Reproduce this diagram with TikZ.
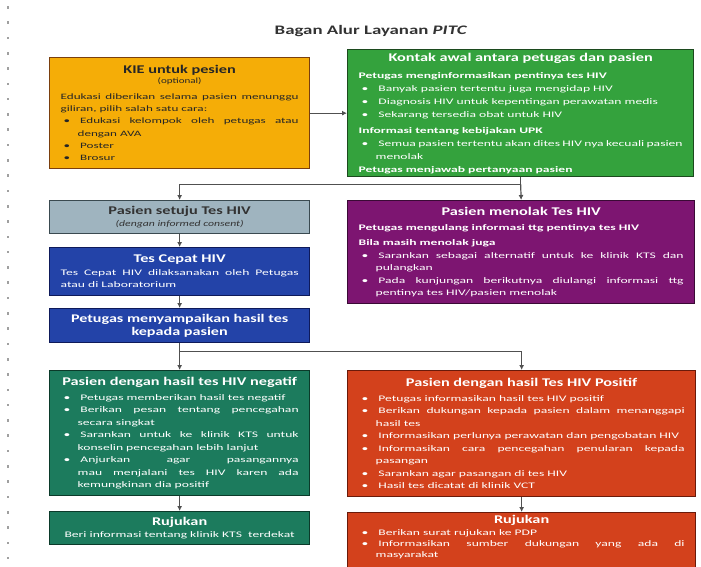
\documentclass[tikz,border=0pt]{standalone}
\usepackage{fontspec}
\usepackage{enumitem}
\usetikzlibrary{arrows.meta}
\setmainfont{Carlito}[FakeStretch=1.6]
\newfontfamily\headfont{Carlito}[FakeStretch=1.38]
\newfontfamily\judulfont{Carlito}[FakeStretch=1.45]
\hyphenpenalty=10000
\exhyphenpenalty=10000
\tolerance=9999
\setlist[itemize]{nosep,label=\textbullet,leftmargin=17pt,labelwidth=4pt,labelsep=10pt,align=left}
\newcommand{\boxhead}[1]{{\centering\headfont\fontsize{11.8}{15}\selectfont\bfseries #1\par}\vspace{2pt}}
\definecolor{kieor}{HTML}{F5AD07}
\definecolor{kiebd}{HTML}{7A3F0E}
\definecolor{kontakgr}{HTML}{34A23D}
\definecolor{kontakbd}{HTML}{1C4A1E}
\definecolor{setujugr}{HTML}{9FB4BF}
\definecolor{setujubd}{HTML}{3A4A50}
\definecolor{cepatbl}{HTML}{2343A8}
\definecolor{cepatbd}{HTML}{0E1A5A}
\definecolor{tolakpu}{HTML}{7D1571}
\definecolor{tolakbd}{HTML}{3A0A35}
\definecolor{negtl}{HTML}{1C7B5D}
\definecolor{negbd}{HTML}{0B3A2A}
\definecolor{posrd}{HTML}{D3411C}
\definecolor{posbd}{HTML}{6A1A0A}
\definecolor{linegray}{HTML}{505050}
\definecolor{dotgray}{HTML}{A0A0A0}
\begin{document}
\begin{tikzpicture}[x=1pt,y=-1pt,
  box/.style={draw,line width=1.3pt,anchor=north west,inner xsep=11pt,inner ysep=3pt,align=justify,
    font=\fontsize{8.5}{12.5}\selectfont},
  arr/.style={draw=linegray,line width=1.2pt,-{Latex[length=5pt,width=5pt]}},
  lin/.style={draw=linegray,line width=1.2pt}]
\useasboundingbox (0,0) rectangle (701,566);
% dotted margin
\foreach \i in {0,...,36}
  \fill[dotgray] (6.8,{6+15.3*\i}) rectangle ++(2.6,2.6);
\node[font=\judulfont\fontsize{13}{15}\selectfont\bfseries,text=black!80] (judul) at (371,31) {Bagan Alur Layanan \textit{PITC}};
% first row
\node[box,fill=kieor,draw=kiebd,text=black!85,text width=238pt,minimum height=111pt,
  font=\fontsize{8.2}{12.3}\selectfont] (kie) at (49,57)
  {\boxhead{KIE untuk pesien}\vspace{-3pt}{\centering\headfont\fontsize{8}{11}\selectfont(optional)\par}\vspace{3pt}
   Edukasi diberikan selama pasien menunggu giliran, pilih salah satu cara:
   \begin{itemize}
   \item Edukasi kelompok oleh petugas atau dengan AVA
   \item Poster
   \item Brosur
   \end{itemize}};
\node[box,fill=kontakgr,draw=kontakbd,text=white,text width=324pt,minimum height=127pt,
  font=\fontsize{8.5}{13}\selectfont] (kontak) at (347,49)
  {\boxhead{Kontak awal antara petugas dan pasien}\vspace{2pt}
   \textbf{Petugas menginformasikan pentinya tes HIV}
   \begin{itemize}
   \item Banyak pasien tertentu juga mengidap HIV
   \item Diagnosis HIV untuk kepentingan perawatan medis
   \item Sekarang tersedia obat untuk HIV
   \end{itemize}\vspace{3pt}
   \textbf{Informasi tentang kebijakan UPK}
   \begin{itemize}
   \item Semua pasien tertentu akan dites HIV nya kecuali pasien menolak
   \end{itemize}
   \textbf{Petugas menjawab pertanyaan pasien}};
% second row
\node[box,fill=setujugr,draw=setujubd,text=black!80,text width=238pt,minimum height=33pt] (setuju) at (49,200)
  {{\centering\headfont\fontsize{11.8}{13}\selectfont\bfseries Pasien setuju Tes HIV\par}
   {\centering\headfont\itshape(dengan informed consent)\par}};
\node[box,fill=tolakpu,draw=tolakbd,text=white,text width=325pt,minimum height=103pt] (tolak) at (347,200)
  {\boxhead{Pasien menolak Tes HIV}
   \textbf{Petugas mengulang informasi ttg pentinya tes HIV}\par\vspace{3pt}
   \textbf{Bila masih menolak juga}
   \begin{itemize}
   \item Sarankan sebagai alternatif untuk ke klinik KTS dan pulangkan
   \item Pada kunjungan berikutnya diulangi informasi ttg pentinya tes HIV/pasien menolak
   \end{itemize}};
\node[box,fill=cepatbl,draw=cepatbd,text=white,text width=238pt,minimum height=48pt] (cepat) at (49,247)
  {{\centering\headfont\fontsize{11.8}{14}\selectfont\bfseries Tes Cepat HIV\par}
   Tes Cepat HIV dilaksanakan oleh Petugas atau di Laboratorium};
\node[box,fill=cepatbl,draw=cepatbd,text=white,text width=238pt,minimum height=34pt] (sampai) at (49,308)
  {{\centering\headfont\fontsize{11.7}{13.5}\selectfont\bfseries Petugas menyampaikan hasil tes\\kepada pasien\par}};
% results
\node[box,fill=negtl,draw=negbd,text=white,text width=238pt,minimum height=125pt] (negatif) at (49,370)
  {\boxhead{Pasien dengan hasil tes HIV negatif}
   \begin{itemize}
   \item Petugas memberikan hasil tes negatif
   \item Berikan pesan tentang pencegahan secara singkat
   \item Sarankan untuk ke klinik KTS untuk konselin pencegahan lebih lanjut
   \item Anjurkan agar pasangannya\linebreak mau menjalani tes HIV karen ada kemungkinan dia positif
   \end{itemize}};
\node[box,fill=posrd,draw=posbd,text=white,text width=326pt,minimum height=126pt] (positif) at (347,370)
  {\boxhead{Pasien dengan hasil Tes HIV Positif}
   \begin{itemize}
   \item Petugas informasikan hasil tes HIV positif
   \item Berikan dukungan kepada pasien dalam menanggapi hasil tes
   \item Informasikan perlunya perawatan dan pengobatan HIV
   \item Informasikan cara pencegahan penularan kepada pasangan
   \item Sarankan agar pasangan di tes HIV
   \item Hasil tes dicatat di klinik VCT
   \end{itemize}};
\node[box,fill=negtl,draw=negbd,text=white,text width=238pt,minimum height=33pt] (rujneg) at (49,511)
  {{\centering\headfont\fontsize{11.8}{13}\selectfont\bfseries Rujukan\par}
   {\centering Beri informasi tentang klinik KTS~ terdekat\par}};
\node[box,fill=posrd,draw=posbd,text=white,text width=326pt,
  font=\fontsize{8.5}{11}\selectfont] (rujpos) at (347,512)
  {{\centering\headfont\fontsize{11.8}{13}\selectfont\bfseries Rujukan\par}\vspace{1pt}
   \begin{itemize}
   \item Berikan surat rujukan ke PDP
   \item Informasikan sumber dukungan yang ada di\linebreak masyarakat
   \end{itemize}\vspace{14pt}};
% connectors
\draw[arr] (kie.east) -- (kontak.west);
\draw[lin] (kontak.south) -- ++(0,7) coordinate (pisah1);
\draw[arr] (pisah1) -| (setuju.north);
\draw[arr] (pisah1) -- (tolak.north);
\draw[arr] (setuju.south) -- (cepat.north);
\draw[arr] (cepat.south) -- (sampai.north);
\draw[lin] (sampai.south) -- ++(0,8) coordinate (pisah2);
\draw[arr] (pisah2) -- (negatif.north);
\draw[arr] (pisah2) -| (positif.north);
\draw[arr] (negatif.south) -- (rujneg.north);
\draw[arr] (positif.south) -- (rujpos.north);
\end{tikzpicture}
\end{document}
